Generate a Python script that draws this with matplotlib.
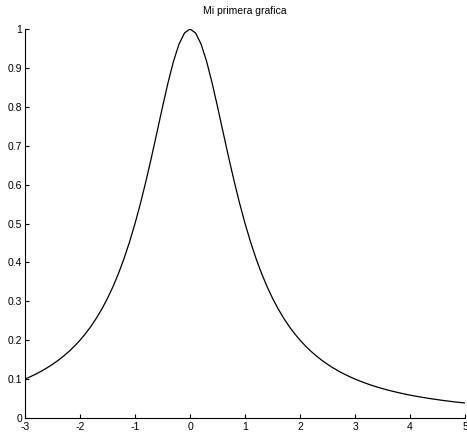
import numpy as np
import matplotlib
matplotlib.use("Agg")
import matplotlib.pyplot as plt

# x samples and curve values
x = np.round(np.arange(-30, 51) / 10, 1)
y_left = [0.1, 0.1063, 0.1131, 0.1206, 0.1289, 0.1379, 0.1479, 0.1590, 0.1712, 0.1848,
          0.2, 0.2169, 0.2358, 0.2571, 0.2809, 0.3077, 0.3378, 0.3717, 0.4098, 0.4525,
          0.5, 0.5525, 0.6098, 0.6711, 0.7353, 0.8, 0.8621, 0.9174, 0.9615, 0.9901]
y_peak = [1.0]
y_right = [0.9901, 0.9615, 0.9174, 0.8621, 0.8, 0.7353, 0.6711, 0.6098, 0.5525, 0.5,
           0.4525, 0.4098, 0.3717, 0.3378, 0.3077, 0.2809, 0.2571, 0.2358, 0.2169, 0.2,
           0.1848, 0.1712, 0.1590, 0.1479, 0.1379, 0.1289, 0.1206, 0.1131, 0.1063, 0.1,
           0.0943, 0.0890, 0.0841, 0.0796, 0.0755, 0.0716, 0.0681, 0.0648, 0.0617, 0.0588,
           0.0561, 0.0536, 0.0513, 0.0491, 0.0471, 0.0451, 0.0433, 0.0416, 0.0400, 0.0385]
y = y_left + y_peak + y_right

xticks = [-3, -2, -1, 0, 1, 2, 3, 4, 5]
yticks = [0, 0.1, 0.2, 0.3, 0.4, 0.5, 0.6, 0.7, 0.8, 0.9, 1]
ylabels = ["0", "0.1", "0.2", "0.3", "0.4", "0.5", "0.6", "0.7", "0.8", "0.9", "1"]

plt.rcParams["font.family"] = ["Liberation Sans", "DejaVu Sans"]

fig = plt.figure(figsize=(4.67, 4.37), dpi=100)
ax = fig.add_axes([0.0535, 0.0435, 0.9425, 0.89])
ax.plot(x, y, color="black", linewidth=0.9)

ax.set_xlim(-3, 5)
ax.set_ylim(0, 1)
ax.set_xticks(xticks)
ax.set_xticklabels([str(t) for t in xticks])
ax.set_yticks(yticks)
ax.set_yticklabels(ylabels)
ax.tick_params(direction="in", length=3, width=0.8, labelsize=7.5)
ax.tick_params(axis="x", pad=3)
ax.tick_params(axis="y", pad=2)
ax.spines["top"].set_visible(False)
ax.spines["right"].set_visible(False)
ax.set_title("Mi primera grafica", fontsize=7.5, pad=11)

fig.savefig("out.png", dpi=100)
